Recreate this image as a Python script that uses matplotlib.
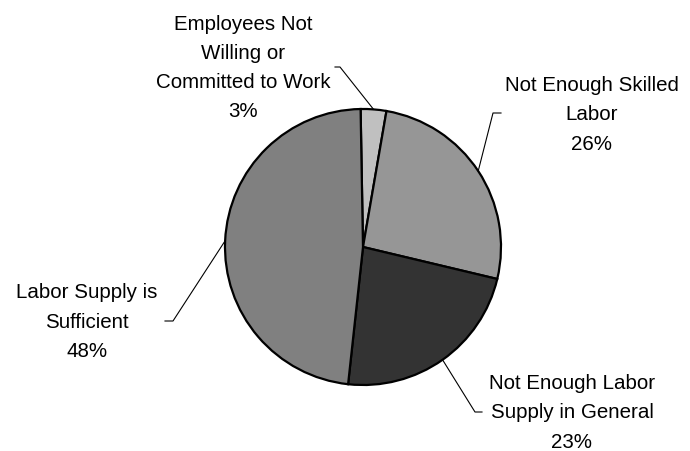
import numpy as np
import matplotlib.pyplot as plt

labels = ["Employees Not\nWilling or\nCommitted to Work",
          "Not Enough Skilled\nLabor",
          "Not Enough Labor\nSupply in General",
          "Labor Supply is\nSufficient"]
shares = [3, 26, 23, 48]
colors = ["#c0c0c0", "#969696", "#333333", "#808080"]

# label block centres and leader-line elbows (pixel layout, y measured up)
W, H = 690, 451
CX, CY, R = 363, H - 247, 138
text_pos = [(243, H - 68), (592, H - 115), (572, H - 413), (87, H - 322)]
elbows = [[(335, H - 67), (340, H - 67)],
          [(501, H - 113), (493, H - 113)],
          [(482, H - 412), (475, H - 412)],
          [(165, H - 321), (173, H - 321)]]

plt.rcParams['font.family'] = ['Liberation Sans', 'DejaVu Sans']

fig = plt.figure(figsize=(W / 100, H / 100), dpi=100)
ax = fig.add_axes([0, 0, 1, 1])

wedges, _ = ax.pie(shares, colors=colors, startangle=91, counterclock=False,
                   center=(CX, CY), radius=R,
                   wedgeprops=dict(edgecolor='black', linewidth=1.6))

# pie() resets the limits, so fix the pixel frame afterwards
ax.set_xlim(0, W)
ax.set_ylim(0, H)
ax.set_aspect('equal')
ax.axis('off')

for w, lab, val, (tx, ty), elb in zip(wedges, labels, shares, text_pos, elbows):
    mid = np.deg2rad((w.theta1 + w.theta2) / 2)
    ex, ey = CX + R * np.cos(mid), CY + R * np.sin(mid)
    xs = [elb[0][0], elb[1][0], ex]
    ys = [elb[0][1], elb[1][1], ey]
    ax.plot(xs, ys, color='black', lw=0.8)
    ax.text(tx, ty, f"{lab}\n{val}%", ha='center', va='center',
            fontsize=14.8, linespacing=1.68)

fig.savefig("out.png", dpi=100)
